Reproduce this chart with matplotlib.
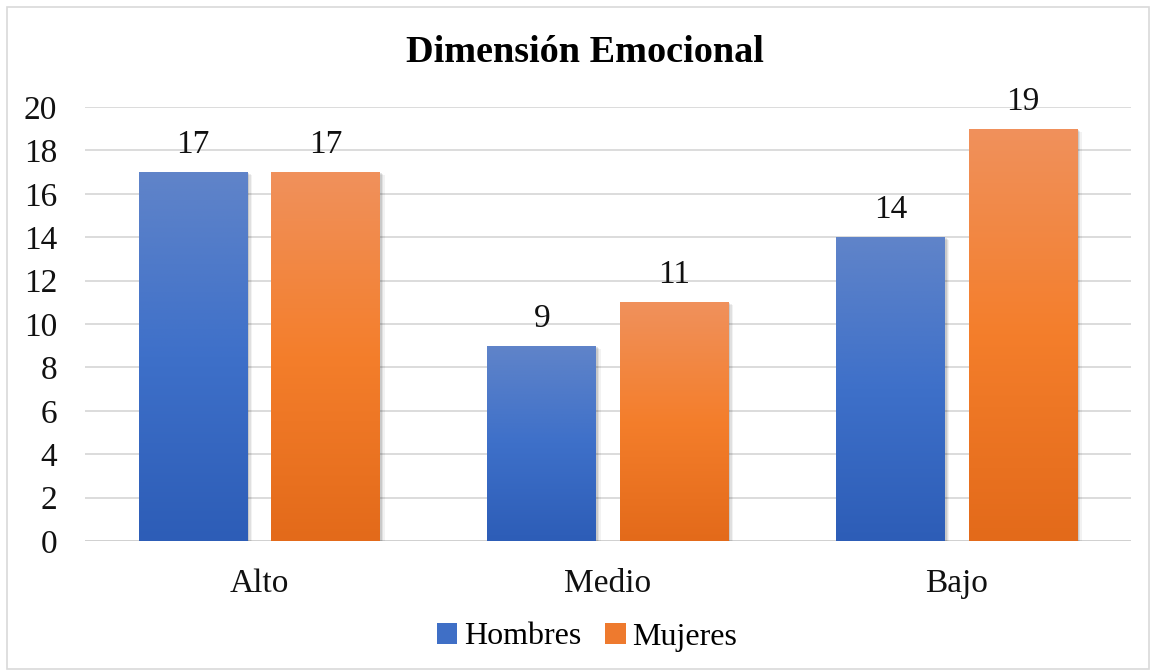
import numpy as np
import matplotlib.pyplot as plt
from matplotlib.colors import LinearSegmentedColormap
from matplotlib.patches import Rectangle

plt.rcParams["font.family"] = ["Liberation Serif", "DejaVu Serif"]

categorias = ["Alto", "Medio", "Bajo"]
hombres = [17, 9, 14]
mujeres = [17, 11, 19]
series = ["Hombres", "Mujeres"]

# degradados tipo Office (arriba -> abajo)
grad_azul = LinearSegmentedColormap.from_list("azul", ["#2D5DB7", "#3E70C9", "#6084C9"])
grad_naranja = LinearSegmentedColormap.from_list("naranja", ["#E36A1A", "#F47E2B", "#F0915C"])

fig = plt.figure(figsize=(11.53, 6.72), dpi=100)
ax = fig.add_axes([85 / 1153, 1 - 541 / 672, 1046 / 1153, 434 / 672])

# marco del gráfico
fig.add_artist(Rectangle((7 / 1153, 3 / 672), 1142 / 1153, 662 / 672, transform=fig.transFigure,
                         fill=False, edgecolor="#D9D9D9", linewidth=1.2))

x = np.arange(len(categorias))
ancho = 0.312
desp = 0.19


def barra_degradada(xc, valor, cmap):
    x0 = xc - ancho / 2
    # sombra suave
    for i, a in enumerate([0.10, 0.07, 0.05]):
        d = 0.005 + i * 0.004
        ax.add_patch(Rectangle((x0 - 0.004 + d, -0.12 - i * 0.05), ancho + 0.004, valor + 0.08,
                               facecolor="#000000", alpha=a, edgecolor="none", zorder=2))
    rect = Rectangle((x0, 0), ancho, valor, facecolor="none", edgecolor="none", zorder=3)
    ax.add_patch(rect)
    grad = np.linspace(0, 1, 256).reshape(-1, 1)
    im = ax.imshow(grad, cmap=cmap, extent=[x0, x0 + ancho, 0, valor], origin="lower",
                   aspect="auto", zorder=3)
    im.set_clip_path(rect)
    ax.text(xc, valor + 0.55, str(valor), ha="center", va="bottom", fontsize=24, color="#111111", zorder=4)


for i in range(len(categorias)):
    barra_degradada(x[i] - desp, hombres[i], grad_azul)
    barra_degradada(x[i] + desp, mujeres[i], grad_naranja)

ax.set_xlim(-0.5, 2.5)
ax.set_ylim(0, 20)
ax.set_yticks(range(0, 21, 2))
ax.set_xticks(x)
ax.set_xticklabels(categorias)
ax.tick_params(axis="both", length=0, labelsize=24, colors="#111111")
ax.tick_params(axis="x", pad=20)
ax.tick_params(axis="y", pad=20)
ax.grid(axis="y", color="#D9D9D9", linewidth=1.3, zorder=0)
ax.set_axisbelow(True)
for s in ax.spines.values():
    s.set_visible(False)
ax.axhline(0, color="#D0D0D0", linewidth=1.3, zorder=1)

fig.text(0.507, 1 - 52 / 672, "Dimensión Emocional", ha="center", va="center",
         fontsize=27.5, fontweight="bold")

# leyenda
handles = [Rectangle((0, 0), 1, 1, facecolor=c) for c in ["#3F6FC6", "#EE7A2E"]]
fig.legend(handles, series, loc="center", bbox_to_anchor=(0.509, 1 - 637 / 672), ncol=2,
           frameon=False, fontsize=23, handlelength=0.65, handleheight=0.65,
           handletextpad=0.2, columnspacing=0.75)

fig.savefig("out.png", dpi=100)
